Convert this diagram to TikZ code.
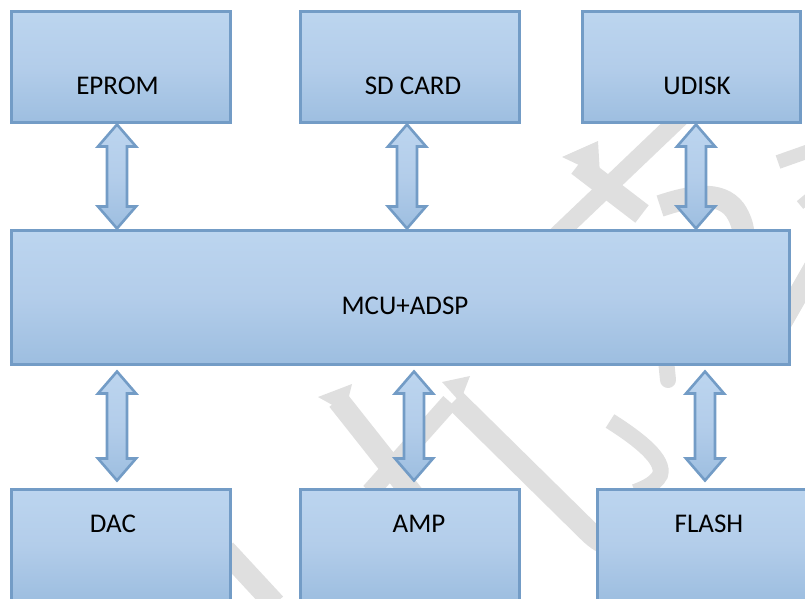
\documentclass[tikz,border=0pt]{standalone}
\usepackage{fontspec}
\setmainfont{Carlito}
\usetikzlibrary{calc}
\definecolor{boxtop}{HTML}{BCD5EF}
\definecolor{boxmid}{HTML}{B3CDEA}
\definecolor{boxbot}{HTML}{9DBEE0}
\definecolor{boxline}{HTML}{739CC6}
\definecolor{wm}{HTML}{DFDFDF}
\tikzset{
  box/.style={rectangle, draw=boxline, line width=3pt, top color=boxtop, bottom color=boxbot, middle color=boxmid, inner sep=0pt},
  lbl/.style={anchor=base, inner sep=0pt, font=\fontsize{27}{30}\selectfont, text=black},
  dbl/.style={draw=boxline, line width=2.6pt, top color=boxtop, bottom color=boxbot, middle color=boxmid, line join=miter},
  wmark/.style={draw=wm, line width=20pt},
  wfill/.style={fill=wm},
}
\newcommand\dblarr[2]{%
  \path[dbl] let \p1=(#1), \p2=(#2) in
    (\x1,\y1) -- (\x1+19pt,\y1-22pt) -- (\x1+10pt,\y1-22pt) -- (\x1+10pt,\y2+22pt)
    -- (\x1+19pt,\y2+22pt) -- (\x1,\y2) -- (\x1-19pt,\y2+22pt) -- (\x1-10pt,\y2+22pt)
    -- (\x1-10pt,\y1-22pt) -- (\x1-19pt,\y1-22pt) -- cycle;}
\begin{document}
\begin{tikzpicture}[x=1pt,y=-1pt]
\useasboundingbox (0,0) rectangle (805,599);
\clip (0,0) rectangle (805,599);
% watermark
\draw[wmark, line width=18pt] (683,115) -- (552,240);
\draw[wmark, line width=22pt] (578,165) -- (642,214);
\fill[wfill] (562,157) -- (598,141) -- (600,175) -- cycle;
\draw[wmark, line width=22pt] (660,206) .. controls (690,196) and (720,190) .. (735,210) .. controls (745,225) and (745,240) .. (742,250);
\draw[wmark, line width=16pt, line cap=round] (665,350) -- (668,380);
\draw[wmark, line width=14pt] (778,162) -- (812,150);
\draw[wmark, line width=10pt] (800,205) -- (812,195);
\draw[wmark, line width=20pt] (775,335) -- (815,265);
\draw[wmark, line width=22pt] (338,400) -- (425,510);
\fill[wfill] (318,397) -- (352,384) -- (345,412) -- cycle;
\draw[wmark, line width=18pt] (370,492) -- (450,402);
\fill[wfill] (442,382) -- (470,376) -- (460,402) -- cycle;
\draw[wmark, line width=22pt] (455,400) -- (585,528) .. controls (595,538) and (600,542) .. (610,545);
\draw[wmark, line width=16pt] (610,421) .. controls (640,440) and (665,460) .. (660,475) .. controls (655,485) and (640,490) .. (635,492);
\draw[wmark, line width=22pt] (225,550) -- (275,604);
% boxes
\node[box, minimum width=219pt, minimum height=111pt] (eprom) at (120.5,67.5) {};
\node[box, minimum width=219pt, minimum height=111pt] (sd) at (409.5,67.5) {};
\node[box, minimum width=218pt, minimum height=111pt] (udisk) at (691,67.5) {};
\node[box, minimum width=778pt, minimum height=134pt] (mcu) at (400,297) {};
\node[box, minimum width=219pt, minimum height=111pt] (dac) at (120.5,544.5) {};
\node[box, minimum width=219pt, minimum height=111pt] (amp) at (409.5,544.5) {};
\node[box, minimum width=224pt, minimum height=111pt] (flash) at (709,544.5) {};
% labels
\node[lbl] (eprom-t) at (117.5,95) {EPROM};
\node[lbl] (sd-t) at (413,95) {SD CARD};
\node[lbl] (udisk-t) at (697,95) {UDISK};
\node[lbl] (mcu-t) at (405,314) {MCU+ADSP};
\node[lbl] (dac-t) at (113,532) {DAC};
\node[lbl] (amp-t) at (419,532) {AMP};
\node[lbl] (flash-t) at (709,532) {FLASH};
% connector end points
\coordinate (e1) at ($(eprom.south)+(-3.5,0)$);
\coordinate (e2) at (e1 |- mcu.north);
\coordinate (s1) at ($(sd.south)+(-2.5,0)$);
\coordinate (s2) at (s1 |- mcu.north);
\coordinate (u1) at ($(udisk.south)+(5,0)$);
\coordinate (u2) at (u1 |- mcu.north);
\coordinate (d2) at ($(dac.north)+(-3.5,-7)$);
\coordinate (d1) at ($(d2 |- mcu.south)+(0,6)$);
\coordinate (a2) at ($(amp.north)+(4.5,-7)$);
\coordinate (a1) at ($(a2 |- mcu.south)+(0,6)$);
\coordinate (f2) at ($(flash.north)+(-4,-7)$);
\coordinate (f1) at ($(f2 |- mcu.south)+(0,6)$);
% double arrows
\dblarr{e1}{e2}
\dblarr{s1}{s2}
\dblarr{u1}{u2}
\dblarr{d1}{d2}
\dblarr{a1}{a2}
\dblarr{f1}{f2}
\end{tikzpicture}
\end{document}
